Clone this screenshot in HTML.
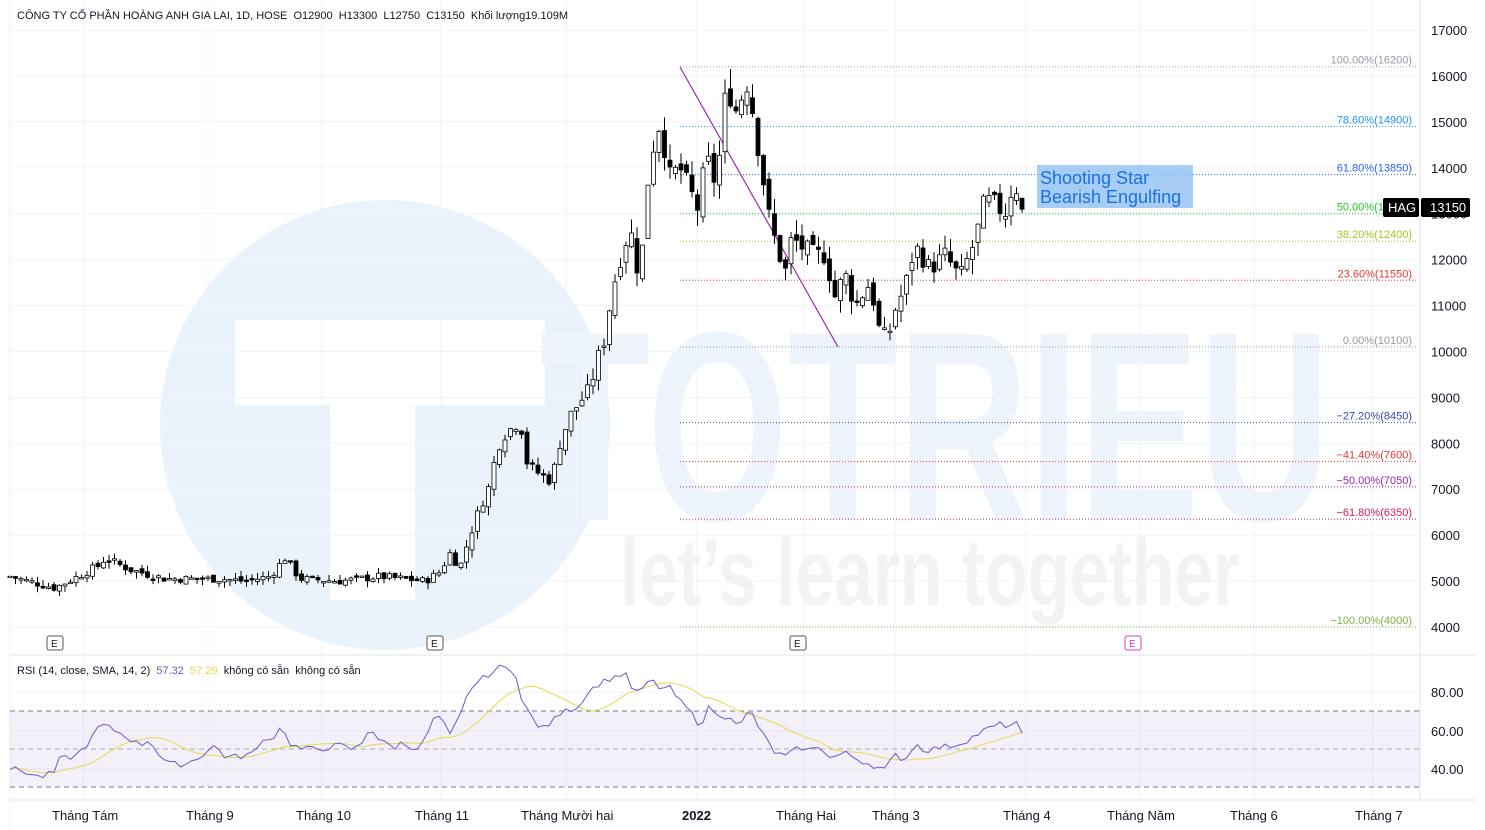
<!DOCTYPE html>
<html><head><meta charset="utf-8"><style>
html,body{margin:0;padding:0;background:#fff;}
svg{display:block;font-family:"Liberation Sans",sans-serif;}
text{white-space:pre;}
</style></head><body>
<svg id="s" width="1485" height="830" viewBox="0 0 1485 830" xmlns="http://www.w3.org/2000/svg">
<rect width="1485" height="830" fill="#fff"/>
<circle cx="385" cy="425" r="225" fill="#eaf2fb"/>
<rect x="235" y="320" width="310" height="85" fill="#fff"/>
<rect x="330" y="400" width="85" height="200" fill="#fff"/>
<text x="540" y="520" font-size="270" font-weight="bold" fill="#edf4fc" textLength="790" lengthAdjust="spacingAndGlyphs">TOTRIEU</text>
<text x="620" y="605" font-size="95" font-weight="bold" fill="#f3f3f3" textLength="620" lengthAdjust="spacingAndGlyphs">let’s learn together</text>
<g id="grid" stroke="#f0f3fa" stroke-width="1"></g>
<g id="fib"></g>
<line x1="680" y1="67" x2="838" y2="347" stroke="#9c27b0" stroke-width="1.2"/>
<g id="candles"></g>
<line x1="1420" y1="0" x2="1420" y2="800" stroke="#e0e3eb"/>
<line x1="10" y1="655" x2="1475" y2="655" stroke="#e0e3eb"/>
<line x1="10" y1="800" x2="1475" y2="800" stroke="#e0e3eb"/>
<line x1="10" y1="0" x2="10" y2="830" stroke="#f0f0f0"/>
<g id="axis" font-size="13" fill="#131722"></g>
<rect x="10" y="711" width="1410" height="76" fill="#7e57c2" fill-opacity="0.09"/>
<g stroke="#787b86" stroke-dasharray="5,4" stroke-width="1">
<line x1="10" y1="711" x2="1420" y2="711"/><line x1="10" y1="749" x2="1420" y2="749" stroke-opacity="0.6"/><line x1="10" y1="787" x2="1420" y2="787"/></g>
<path id="sma" fill="none" stroke="#e6d94a" stroke-width="1"/>
<path id="rsi" fill="none" stroke="#6a5acd" stroke-width="1"/>
<text x="17" y="674" font-size="11" fill="#131722">RSI (14, close, SMA, 14, 2)  <tspan fill="#6a5acd">57.32</tspan>  <tspan fill="#e6d94a">57.29</tspan>  không có sẵn  không có sẵn</text>
<text x="17" y="19" font-size="11" fill="#131722">CÔNG TY CỔ PHẦN HOÀNG ANH GIA LAI, 1D, HOSE  O12900  H13300  L12750  C13150  Khối lượng19.109M</text>
<rect x="1037" y="165" width="156" height="43" fill="#90c2f2" fill-opacity="0.8"/>
<text x="1040" y="184" font-size="18" fill="#1e6fe0">Shooting Star</text>
<text x="1040" y="203" font-size="18" fill="#1e6fe0">Bearish Engulfing</text>
<rect x="1383" y="198" width="36" height="19" rx="2" fill="#000"/>
<text x="1388" y="212" font-size="13" fill="#fff">HAG</text>
<rect x="1421" y="198" width="49" height="19" rx="2" fill="#000"/>
<text x="1430" y="212" font-size="13" fill="#fff">13150</text>
<g font-size="10" fill="#131722">
<rect x="47" y="636" width="16" height="14" rx="2" fill="#fff" stroke="#555"/><text x="51" y="647">E</text>
<rect x="427" y="636" width="16" height="14" rx="2" fill="#fff" stroke="#555"/><text x="431" y="647">E</text>
<rect x="790" y="636" width="16" height="14" rx="2" fill="#fff" stroke="#555"/><text x="794" y="647">E</text>
<rect x="1125" y="636" width="16" height="14" rx="2" fill="#fff" stroke="#d040d0"/><text x="1129" y="647" fill="#d040d0">E</text>
</g>
</svg>
<script>
var NS="http://www.w3.org/2000/svg";
function el(t,a,p){var e=document.createElementNS(NS,t);for(var k in a)e.setAttribute(k,a[k]);if(p)p.appendChild(e);return e;}
function Y(p){return 30+(17000-p)*0.045923;}
var grid=document.getElementById('grid'),axis=document.getElementById('axis');
for(var p=4000;p<=17000;p+=1000){var y=Y(p);el('line',{x1:10,y1:y,x2:1420,y2:y},grid);var t=el('text',{x:1431,y:y+5},axis);t.textContent=p;}
[83,208,322,441,566,697,804,895,1026,1140,1254,1373].forEach(function(x){el('line',{x1:x,y1:0,x2:x,y2:800},grid);});
[[80,692],[60,731],[40,769]].forEach(function(r){var t=el('text',{x:1431,y:r[1]+5},axis);t.textContent=r[0].toFixed(2);el('line',{x1:10,y1:r[1],x2:1420,y2:r[1]},grid);});
[["Tháng Tám",52],["Tháng 9",186],["Tháng 10",296],["Tháng 11",415],["Tháng Mười hai",521],["2022",682],["Tháng Hai",776],["Tháng 3",872],["Tháng 4",1003],["Tháng Năm",1107],["Tháng 6",1230],["Tháng 7",1355]].forEach(function(a){var t=el('text',{x:a[1],y:820},axis);t.textContent=a[0];if(a[0]=="2022")t.setAttribute('font-weight','bold');});
var fib=document.getElementById('fib');
[["100.00%(16200)",16200,"#9598a1"],["78.60%(14900)",14900,"#2196f3"],["61.80%(13850)",13850,"#2962ff"],["50.00%(13000)",13000,"#22c322"],["38.20%(12400)",12400,"#a8c21e"],["23.60%(11550)",11550,"#e53935"],["0.00%(10100)",10100,"#9598a1"],["−27.20%(8450)",8450,"#3f3fbf"],["−41.40%(7600)",7600,"#e53935"],["−50.00%(7050)",7050,"#9c27b0"],["−61.80%(6350)",6350,"#d81b60"],["−100.00%(4000)",4000,"#7cb342"]].forEach(function(f){var y=Y(f[1]);el('line',{x1:680,y1:y,x2:1418,y2:y,stroke:f[2],'stroke-dasharray':'1,2','stroke-width':1},fib);var t=el('text',{x:1412,y:y-3,'font-size':11,fill:f[2],'text-anchor':'end'},fib);t.textContent=f[0];});
var kp=[[10,5100],[55,4850],[100,5350],[105,5500],[130,5250],[165,5050],[220,5050],[245,5000],[270,5100],[285,5500],[300,5050],[340,5000],[380,5100],[425,5000],[440,5200],[450,5600],[460,5300],[470,6000],[480,6600],[490,7100],[497,7900],[505,8200],[520,8500],[527,7600],[535,7400],[550,7200],[555,7500],[560,8000],[570,8600],[580,8900],[590,9200],[597,9800],[605,10300],[612,11300],[620,12000],[630,12700],[640,11500],[645,13000],[650,14200],[660,15000],[670,13800],[680,14000],[690,13500],[700,13000],[705,14300],[715,13700],[720,14300],[727,15900],[735,15200],[748,15900],[760,14200],[770,12800],[785,11700],[792,12500],[800,12300],[815,12100],[825,12100],[835,11200],[845,11700],[855,11000],[870,11500],[880,10400],[888,10300],[895,10900],[905,11400],[915,12300],[930,11800],[945,12100],[960,11600],[975,12400],[985,13300],[995,13200],[1005,13000],[1015,13800],[1020,13000],[1027,13150]];
function interp(k,x){for(var i=1;i<k.length;i++){if(x<=k[i][0]){var a=k[i-1],b=k[i];return a[1]+(b[1]-a[1])*(x-a[0])/(b[0]-a[0]);}}return k[k.length-1][1];}
var seed=7;function rnd(){seed=(seed*9301+49297)%233280;return seed/233280;}
var cg=document.getElementById('candles');var prev=5100;var closes=[];var xs=[];
for(var x=10;x<=1027;x+=5.5){var c=interp(kp,x);var vol=c*0.035;c+= (rnd()-0.5)*vol;var o=prev+(rnd()-0.5)*vol*0.6;var h=Math.max(o,c)+rnd()*vol*0.8,l=Math.min(o,c)-rnd()*vol*0.8;
el('line',{x1:x,y1:Y(h),x2:x,y2:Y(l),stroke:'#000','stroke-width':1},cg);
var yt=Y(Math.max(o,c)),yb=Y(Math.min(o,c));if(yb-yt<1.5)yb=yt+1.5;
el('rect',{x:x-2,y:yt,width:4,height:yb-yt,fill:c>=o?'#fff':'#000',stroke:'#000','stroke-width':0.8},cg);prev=c;closes.push(c);xs.push(x);}
var rk=[[10,40],[25,38],[40,35],[55,38],[60,45],[75,46],[90,54],[100,63],[110,61],[125,57],[140,52],[150,55],[160,46],[170,42],[185,42],[200,46],[215,52],[225,46],[240,46],[255,48],[265,58],[270,53],[280,62],[290,53],[300,50],[320,50],[340,52],[350,50],[360,51],[370,62],[380,54],[395,51],[400,53],[420,50],[435,67],[440,67],[450,57],[460,67],[470,82],[485,88],[500,93],[515,92],[520,77],[530,68],[540,61],[545,61],[555,66],[565,72],[575,70],[585,78],[595,83],[605,86],[615,88],[625,90],[630,83],[640,79],[650,87],[660,82],[670,82],[680,75],[690,70],[700,62],[710,73],[720,66],[730,68],[740,62],[750,71],[760,60],[775,48],[785,46],[800,51],[810,49],[820,52],[830,45],[845,48],[860,44],[875,41],[885,39],[895,47],[905,44],[915,53],[925,49],[940,51],[955,52],[965,54],[975,57],[985,60],[1000,63],[1010,62],[1015,65],[1022,57]];
function RY(r){return 692+(80-r)*1.9;}
var rv=[],d="";for(var i=0;i<xs.length;i++){var x=Math.min(xs[i],1022);var r=interp(rk,x)+(rnd()-0.5)*3;rv.push(r);d+=(i?"L":"M")+x.toFixed(1)+","+RY(r).toFixed(1);}
document.getElementById('rsi').setAttribute('d',d);
var ds="";for(var i=0;i<rv.length;i++){var s=0,n=0;for(var j=Math.max(0,i-13);j<=i;j++){s+=rv[j];n++;}var x=Math.min(xs[i],1027);ds+=(i?"L":"M")+x.toFixed(1)+","+RY(s/n).toFixed(1);}
document.getElementById('sma').setAttribute('d',ds);
</script>
</body></html>
